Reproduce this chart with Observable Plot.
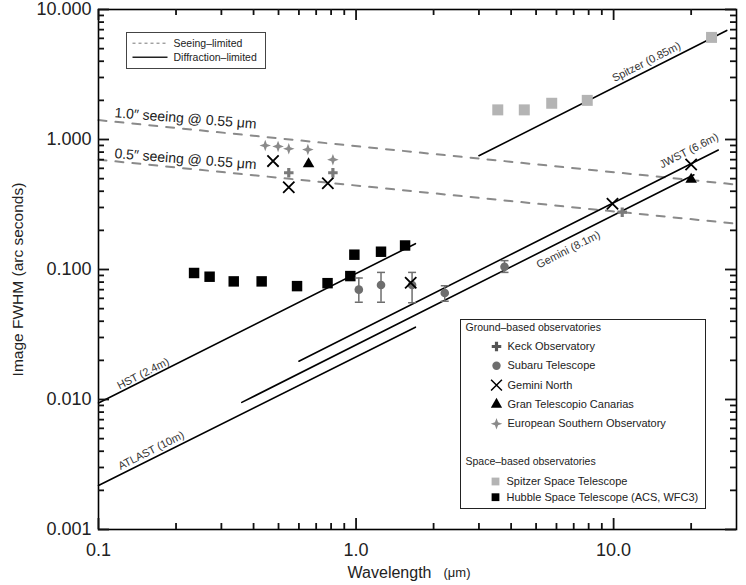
<!DOCTYPE html>
<html><head><meta charset="utf-8">
<script src="https://cdn.jsdelivr.net/npm/d3@7"></script>
<script src="https://cdn.jsdelivr.net/npm/@observablehq/plot@0.6"></script>
<style>body{margin:0;background:#fff;}</style>
</head><body><div id="chart"></div>
<script>
// ---------- data ----------
const hstWave = [0.235, 0.27, 0.335, 0.43, 0.59, 0.775, 0.95, 0.985, 1.25, 1.55];
const hstFwhm = [0.094, 0.088, 0.081, 0.081, 0.0745, 0.0785, 0.089, 0.130, 0.137, 0.153];
const spitzerWave = [3.55, 4.5, 5.75, 7.9, 24];
const spitzerFwhm = [1.69, 1.69, 1.90, 2.0, 6.1];
const keckWave = [0.548, 0.813, 10.8];
const keckFwhm = [0.555, 0.555, 0.276];
const esoWave = [0.444, 0.498, 0.548, 0.65, 0.813];
const esoFwhm = [0.90, 0.885, 0.848, 0.836, 0.70];
const subaruWave = [1.025, 1.25, 1.65, 2.21, 3.77];
const subaruFwhm = [0.070, 0.076, 0.076, 0.066, 0.105];
const subaruLow = [0.056, 0.056, 0.0555, 0.057, 0.095];
const subaruHigh = [0.086, 0.095, 0.095, 0.075, 0.117];
const geminiNWave = [0.476, 0.548, 0.777, 1.63, 9.9, 20.0];
const geminiNFwhm = [0.682, 0.429, 0.461, 0.079, 0.32, 0.643];
const gtcWave = [0.654, 20.0];
const gtcFwhm = [0.65, 0.493];

// diffraction-limit lines (endpoints)
const hstLineWave = [0.1, 1.7],      hstLineFwhm = [0.0094, 0.158];
const atlastLineWave = [0.1, 1.7],   atlastLineFwhm = [0.00218, 0.036];
const geminiLineWave = [0.36, 20.5], geminiLineFwhm = [0.0095, 0.535];
const jwstLineWave = [0.6, 25.5],    jwstLineFwhm = [0.0197, 0.83];
const spitzerLineWave = [3.0, 27.5], spitzerLineFwhm = [0.75, 6.9];
// seeing-limited lines (endpoints)
const seeing10Wave = [0.1, 30], seeing10Fwhm = [1.41, 0.45];
const seeing05Wave = [0.1, 30], seeing05Fwhm = [0.70, 0.225];

const lineLabels = ["HST (2.4m)", "ATLAST (10m)", "Gemini (8.1m)", "JWST (6.6m)", "Spitzer (0.85m)"];
const lineLabelWave = [0.149, 0.160, 6.67, 19.6, 13.4];
const lineLabelFwhm = [0.0158, 0.00405, 0.142, 0.82, 3.95];
const seeingLabels = ["1.0\u2033 seeing @ 0.55 \u03bcm", "0.5\u2033 seeing @ 0.55 \u03bcm"];
const seeingLabelWave = [0.115, 0.115];
const seeingLabelFwhm = [1.48, 0.72];

const xDomain = [0.1, 30];
const yDomain = [0.001, 10];
const xMajor = [0.1, 1, 10];
const xMinor = [0.2, 0.3, 0.4, 0.5, 0.6, 0.7, 0.8, 0.9, 2, 3, 4, 5, 6, 7, 8, 9, 20];
const yMajor = [0.001, 0.01, 0.1, 1, 10];
const yMinor = [0.002,0.003,0.004,0.005,0.006,0.007,0.008,0.009,
                0.02,0.03,0.04,0.05,0.06,0.07,0.08,0.09,
                0.2,0.3,0.4,0.5,0.6,0.7,0.8,0.9,
                2,3,4,5,6,7,8,9];

const groundNames = ["Keck Observatory", "Subaru Telescope", "Gemini North", "Gran Telescopio Canarias", "European Southern Observatory"];
const spaceNames = ["Spitzer Space Telescope", "Hubble Space Telescope (ACS, WFC3)"];

// ---------- layout / styles ----------
const W = 746, H = 585, ML = 98, MR = 10, MT = 9, MB = 56;
const PW = W - ML - MR, PH = H - MT - MB;
const C_KECK = "#7a7a7a", C_ESO = "#8a8a8a", C_SUB = "#6e6e6e", C_SPZ = "#b4b4b4", C_SEE = "#8a8a8a";
const star4 = {draw(ctx, size) {
  const R = Math.sqrt(size / Math.PI) * 1.25, r = R * 0.38;
  for (let i = 0; i < 8; i++) {
    const a = i * Math.PI / 4 - Math.PI / 2, rad = i % 2 ? r : R;
    const px = rad * Math.cos(a), py = rad * Math.sin(a);
    i ? ctx.lineTo(px, py) : ctx.moveTo(px, py);
  }
  ctx.closePath();
}};
const capSym = {draw(ctx) { ctx.moveTo(-4, 0); ctx.lineTo(4, 0); }};
const hLine = {draw(ctx) { ctx.moveTo(0, 0); ctx.lineTo(35, 0); }};
const X = d => d;

// inward axis ticks on all four sides (Plot tick marks spanning a short inset of the frame)
const TS = {stroke: "#111", strokeWidth: 1.8};
function axisTicks(xv, yv, len) {
  return [
    Plot.tickX(xv, {x: X, insetTop: PH - len, ...TS}),
    Plot.tickX(xv, {x: X, insetBottom: PH - len, ...TS}),
    Plot.tickY(yv, {y: X, insetRight: PW - len, ...TS}),
    Plot.tickY(yv, {y: X, insetLeft: PW - len, ...TS})
  ];
}
function seg(w, f, opts) { return Plot.line(w, {x: X, y: (d, i) => f[i], ...opts}); }

// legends
const legendMarks = [];
const at = (px, py) => ({frameAnchor: "top-left", dx: px - ML, dy: py - MT});
legendMarks.push(Plot.frame({insetLeft: 460 - ML, insetTop: 319 - MT, insetRight: W - MR - 705, insetBottom: H - MB - 508, stroke: "#222", strokeWidth: 1, fill: "white"}));
const hdr = (t, y) => Plot.text([t], {...at(465, y), textAnchor: "start", lineAnchor: "middle", fontSize: 10.5, fill: "#222"});
legendMarks.push(hdr("Ground\u2013based observatories", 327.5));
legendMarks.push(hdr("Space\u2013based observatories", 461.5));
const gSyms = [
  {symbol: "cross", r: 4.0, fill: "#555"},
  {symbol: "circle", r: 4.2, fill: C_SUB},
  {symbol: "times", r: 5, stroke: "black", fill: "none", strokeWidth: 1.5},
  {symbol: "triangle", r: 4.2, fill: "black"},
  {symbol: star4, r: 4.6, fill: C_ESO}
];
groundNames.forEach((n, i) => {
  const y = 346 + i * 19.3;
  legendMarks.push(Plot.dot([0], {...at(496, y), ...gSyms[i]}));
  legendMarks.push(Plot.text([n], {...at(507, y), textAnchor: "start", lineAnchor: "middle", fontSize: 11, fill: "#222"}));
});
const sCols = [C_SPZ, "black"];
spaceNames.forEach((n, i) => {
  const y = 481 + i * 15.7;
  legendMarks.push(Plot.dot([0], {...at(495, y), symbol: "square", r: 4.4, fill: sCols[i]}));
  legendMarks.push(Plot.text([n], {...at(506, y), textAnchor: "start", lineAnchor: "middle", fontSize: 11, fill: "#222"}));
});
legendMarks.push(Plot.frame({insetLeft: 126 - ML, insetTop: 32 - MT, insetRight: W - MR - 265, insetBottom: H - MB - 68, stroke: "#444", strokeWidth: 1, fill: "white"}));
legendMarks.push(Plot.dot([0], {...at(132, 42.7), symbol: hLine, r: 1, stroke: "#777", strokeWidth: 1, strokeDasharray: "3,3", fill: "none"}));
legendMarks.push(Plot.dot([0], {...at(132, 56.7), symbol: hLine, r: 1, stroke: "#222", strokeWidth: 1.5, fill: "none"}));
legendMarks.push(Plot.text(["Seeing\u2013limited"], {...at(173, 42.7), textAnchor: "start", lineAnchor: "middle", fontSize: 10.5, fill: "#222"}));
legendMarks.push(Plot.text(["Diffraction\u2013limited"], {...at(173, 56.7), textAnchor: "start", lineAnchor: "middle", fontSize: 10.5, fill: "#222"}));

const chart = Plot.plot({
  width: W, height: H,
  marginLeft: ML, marginRight: MR, marginTop: MT, marginBottom: MB,
  style: {fontFamily: "'Liberation Sans', Arial, Helvetica, sans-serif", background: "white"},
  x: {type: "log", domain: xDomain},
  y: {type: "log", domain: yDomain},
  marks: [
    seg(seeing10Wave, seeing10Fwhm, {stroke: C_SEE, strokeWidth: 2, strokeDasharray: "8,9"}),
    seg(seeing05Wave, seeing05Fwhm, {stroke: C_SEE, strokeWidth: 2, strokeDasharray: "8,9"}),
    seg(hstLineWave, hstLineFwhm, {stroke: "black", strokeWidth: 1.6}),
    seg(atlastLineWave, atlastLineFwhm, {stroke: "black", strokeWidth: 1.6}),
    seg(geminiLineWave, geminiLineFwhm, {stroke: "black", strokeWidth: 1.6}),
    seg(jwstLineWave, jwstLineFwhm, {stroke: "black", strokeWidth: 1.6}),
    seg(spitzerLineWave, spitzerLineFwhm, {stroke: "black", strokeWidth: 1.6}),
    Plot.text(lineLabels, {x: (d, i) => lineLabelWave[i], y: (d, i) => lineLabelFwhm[i], text: X, rotate: -26.8, fontSize: 11, fill: "#333", textAnchor: "middle", lineAnchor: "middle"}),
    Plot.text(seeingLabels, {x: (d, i) => seeingLabelWave[i], y: (d, i) => seeingLabelFwhm[i], text: X, rotate: 4.5, fontSize: 14, fill: "#222", textAnchor: "start", lineAnchor: "bottom"}),
    Plot.dot(spitzerWave, {x: X, y: (d, i) => spitzerFwhm[i], symbol: "square", r: 6.2, fill: C_SPZ}),
    Plot.dot(hstWave, {x: X, y: (d, i) => hstFwhm[i], symbol: "square", r: 5.9, fill: "black"}),
    Plot.ruleX(subaruWave, {x: X, y1: (d, i) => subaruLow[i], y2: (d, i) => subaruHigh[i], stroke: C_SUB, strokeWidth: 1.5}),
    Plot.dot(subaruWave, {x: X, y: (d, i) => subaruLow[i], symbol: capSym, stroke: C_SUB, strokeWidth: 1.5, fill: "none"}),
    Plot.dot(subaruWave, {x: X, y: (d, i) => subaruHigh[i], symbol: capSym, stroke: C_SUB, strokeWidth: 1.5, fill: "none"}),
    Plot.dot(subaruWave, {x: X, y: (d, i) => subaruFwhm[i], symbol: "circle", r: 4.3, fill: C_SUB}),
    Plot.dot(esoWave, {x: X, y: (d, i) => esoFwhm[i], symbol: star4, r: 4.6, fill: C_ESO}),
    Plot.dot(keckWave, {x: X, y: (d, i) => keckFwhm[i], symbol: "cross", r: 4.0, fill: C_KECK}),
    Plot.dot(gtcWave, {x: X, y: (d, i) => gtcFwhm[i], symbol: "triangle", r: 4.3, fill: "black"}),
    Plot.dot(geminiNWave, {x: X, y: (d, i) => geminiNFwhm[i], symbol: "times", r: 5.2, stroke: "black", fill: "none", strokeWidth: 1.8}),
    ...legendMarks,
    Plot.frame({stroke: "black", strokeWidth: 1.6}),
    ...axisTicks(xMajor, yMajor, 11),
    ...axisTicks(xMinor, yMinor, 6),
    Plot.axisX({ticks: xMajor, tickFormat: d => d.toFixed(1), tickSize: 0, tickPadding: 14, fontSize: 18, label: null, fill: "#222"}),
    Plot.axisY({ticks: yMajor, tickFormat: d => d.toFixed(3), tickSize: 0, tickPadding: 7, fontSize: 18, label: null, fill: "#222"}),
    Plot.text(["Image FWHM (arc seconds)"], {frameAnchor: "left", dx: -80, dy: 10, rotate: -90, fontSize: 15.5, fill: "#222", textAnchor: "middle", lineAnchor: "middle"}),
    Plot.text(["Wavelength"], {frameAnchor: "bottom", dx: 14, dy: 43, fontSize: 16, fill: "#222", textAnchor: "end", lineAnchor: "middle"}),
    Plot.text(["(\u03bcm)"], {frameAnchor: "bottom", dx: 26, dy: 43, fontSize: 13, fill: "#222", textAnchor: "start", lineAnchor: "middle"})
  ]
});
document.getElementById("chart").appendChild(chart);
</script>
</body></html>
